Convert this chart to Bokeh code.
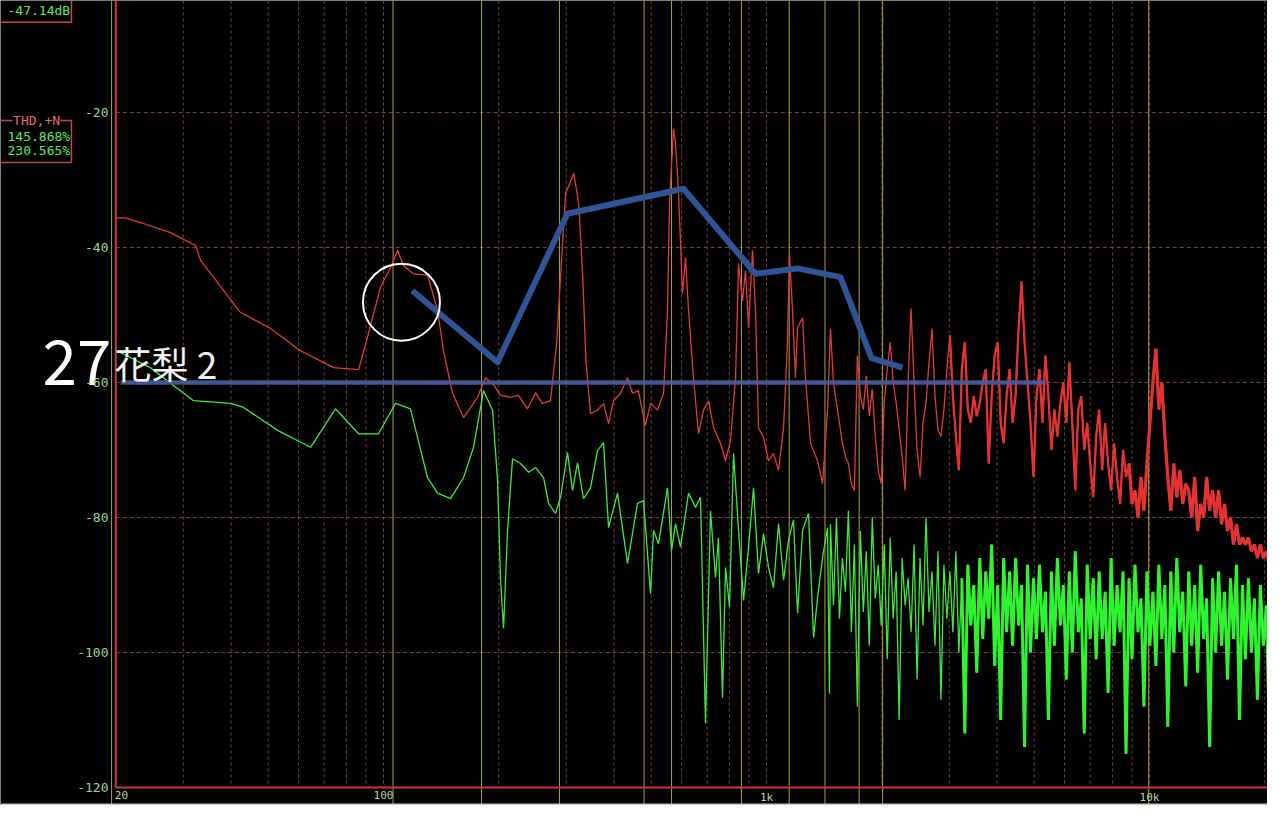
import numpy as np
from bokeh.plotting import figure
from bokeh.models import Range1d, Span
from bokeh.core.properties import value
from bokeh.embed import file_html
from bokeh.resources import INLINE

# ---------------- data ----------------
y_ticks = [-20, -40, -60, -80, -100, -120]
y_tick_labels = ["-20", "-40", "-60", "-80", "-100", "-120"]
x_ticks = [20, 100, 1000, 10000]
x_tick_labels = ["20", "100", "1k", "10k"]

grid_freqs = [30, 40, 50, 60, 70, 80, 90, 100, 200, 300, 400, 500, 600, 700, 800, 900,
              1000, 2000, 3000, 4000, 5000, 6000, 7000, 8000, 9000, 10000, 20000]
grid_db = [-20, -40, -60, -80, -100]
marker_freqs = [19.5, 105.9, 180.3, 288, 479, 565, 860, 1146, 1421, 1745, 2010, 9950]

# red trace (THD+N), low-frequency part
red_lo_f = [20.0, 21.2, 23.2, 27.8, 32.3, 33.3, 42.3, 50.7, 60.7, 74.1, 86.1, 90.8, 98.2,
            104.3, 108.8, 112.8, 119.8, 130.3, 138.4, 143.4, 151.5, 161.8, 176.0, 184.6,
            192.6, 202.1, 214.6, 225.1, 237.8, 249.5, 260.0, 272.8, 283.2, 289.9, 298.8,
            313.9, 323.4, 331.4, 337.6, 347.1, 362.1, 375.4, 386.9, 398.6, 415.9, 433.6,
            446.7, 462.9, 482.5, 497.9, 519.4, 538.5, 551.4, 558.1, 571.6, 578.6, 589.3,
            603.5, 614.5, 625.7, 644.7, 664.4, 684.7, 705.7, 727.3, 758.6, 781.6, 805.4,
            830.1, 845.2, 865.7, 881.5, 897.5, 919.3, 936.2, 953.1, 982.2, 1012, 1043,
            1075, 1108, 1134, 1148, 1169, 1190, 1205, 1242, 1264, 1303, 1359, 1401, 1443]
red_lo_db = [-35.6, -35.6, -36.3, -37.8, -39.7, -41.9, -49.6, -52.0, -55.3, -57.8, -58.1,
             -53.3, -45.9, -43.0, -40.4, -42.7, -43.9, -44.1, -49.3, -55.3, -61.6, -65.2,
             -62.2, -59.3, -60.1, -61.9, -62.2, -61.9, -63.9, -61.5, -63.1, -62.7, -54.2,
             -44.4, -32.0, -29.0, -33.5, -44.4, -56.7, -64.6, -64.1, -63.1, -66.1, -62.7,
             -61.6, -59.3, -61.6, -61.2, -66.4, -63.1, -64.1, -61.6, -49.3, -33.5, -22.4,
             -24.6, -32.0, -46.8, -41.5, -49.3, -59.3, -67.6, -64.1, -62.7, -66.7, -69.0,
             -71.6, -68.6, -59.3, -42.4, -47.9, -43.4, -51.9, -40.4, -49.3, -66.7, -68.1,
             -71.6, -70.5, -73.0, -66.7, -54.2, -40.9, -49.3, -59.3, -51.9, -50.4, -59.3,
             -69.0, -71.6, -75.0, -64.1]

# green trace (harmonics), low-frequency part
green_lo_f = [20.0, 20.6, 24.6, 31.9, 39.9, 43.1, 52.9, 64.5, 74.9, 86.1, 97.0, 107.5,
              117.6, 130.3, 138.4, 149.6, 161.8, 171.8, 182.4, 192.6, 198.5, 202.1, 205.8,
              210.8, 217.2, 227.9, 239.2, 249.5, 261.8, 269.7, 281.3, 289.9, 302.3, 311.5,
              321.0, 332.8, 347.1, 362.1, 375.4, 386.9, 408.3, 433.6, 460.5, 477.4, 497.9,
              507.0, 522.4, 551.4, 564.9, 578.6, 596.3, 625.7, 652.6, 672.5, 692.9, 714.1,
              735.9, 749.2, 767.5, 781.6, 800.6, 820.1, 845.2, 871.0, 897.5, 924.9, 953.1,
              982.2, 1012, 1043, 1075, 1108, 1141, 1176, 1205, 1242, 1287, 1327, 1359, 1401,
              1443, 1460]
green_lo_db = [-55.3, -55.6, -57.8, -62.7, -63.1, -63.7, -67.1, -69.6, -63.9, -67.6, -67.6,
               -63.1, -63.9, -74.1, -76.4, -77.2, -74.1, -69.6, -61.2, -64.1, -74.5, -89.3,
               -96.4, -81.9, -71.3, -72.0, -73.3, -72.6, -74.1, -77.9, -79.4, -77.0, -70.4,
               -76.0, -71.9, -77.2, -75.6, -70.1, -68.9, -81.5, -76.4, -86.8, -77.9, -77.5,
               -91.3, -81.9, -83.9, -75.6, -84.9, -80.9, -84.4, -76.4, -78.5, -77.0, -110.5,
               -79.0, -88.9, -83.0, -106.7, -87.4, -93.3, -70.5, -81.9, -92.3, -84.4, -75.6,
               -88.3, -82.4, -87.4, -90.4, -80.9, -89.3, -83.4, -80.4, -94.2, -81.9, -79.4,
               -97.8, -91.9, -85.9, -81.5, -106.1]

# dense high-frequency part: analyser display bins, values read column by column
hf_bins = np.geomspace(1469, 21300, 150)
red_hf_db = [
    -52, -60, -63, -66, -69, -71, -72, -75, -76, -56,
    -62, -64, -59, -65, -61, -68, -73, -75, -63, -58,
    -54, -60, -63, -67, -71, -76, -60, -49, -60, -70,
    -74, -66, -63, -57, -52, -62, -67, -68, -64, -58,
    -53, -62, -68, -73, -58, -54, -64, -66, -62, -65,
    -63, -60, -58, -72, -62, -56, -54, -66, -69, -62,
    -58, -66, -62, -52, -45, -54, -60, -66, -74, -62,
    -58, -66, -56, -62, -70, -64, -68, -63, -60, -66,
    -57, -66, -76, -64, -62, -70, -66, -72, -77, -68,
    -64, -73, -66, -72, -76, -69, -74, -78, -70, -74,
    -72, -78, -76, -80, -74, -79, -72, -66, -60, -55,
    -64, -60, -68, -74, -79, -72, -77, -73, -78, -75,
    -76, -80, -74, -82, -78, -80, -74, -79, -76, -80,
    -76, -81, -78, -82, -80, -84, -81, -84, -83, -84,
    -83, -85, -84, -86, -84, -86, -85, -87, -89, -93,
]
green_hf_db = [
    -81, -93, -80, -95, -86, -91, -79, -97, -84, -108,
    -82, -94, -85, -99, -80, -92, -87, -96, -84, -101,
    -83, -95, -88, -110, -86, -93, -89, -97, -84, -104,
    -86, -96, -80, -94, -88, -99, -85, -107, -87, -95,
    -88, -97, -85, -100, -89, -112, -87, -96, -90, -103,
    -86, -98, -88, -95, -84, -102, -90, -110, -86, -97,
    -88, -99, -86, -96, -90, -114, -87, -100, -89, -98,
    -87, -97, -91, -110, -88, -99, -86, -96, -90, -104,
    -88, -100, -85, -97, -92, -112, -87, -98, -89, -101,
    -88, -98, -91, -106, -86, -99, -90, -97, -88, -115,
    -89, -101, -87, -97, -92, -108, -88, -99, -91, -102,
    -87, -98, -90, -111, -88, -100, -86, -97, -91, -105,
    -88, -99, -90, -103, -87, -98, -92, -114, -89, -100,
    -88, -99, -91, -104, -89, -98, -87, -110, -90, -101,
    -89, -100, -92, -107, -90, -99, -93, -112, -96, -118,
]

# hand-drawn overlay
blue_f = [119, 198.5, 302, 607, 936, 1205, 1560, 1880, 2266]
blue_db = [-46.4, -57.0, -35.0, -31.3, -43.9, -43.1, -44.4, -56.4, -57.8]
ref_level_f = [20.6, 5352]
ref_level_db = [-60, -60]
circle_f = [111.4]
circle_db = [-48.1]

readout_level = "-47.14dB"
thd_title = "THD,+N"
thd_values = ["145.868%", "230.565%"]
title_num = "27"
title_name = "花梨 2"

# ---------------- figure ----------------
X_LO, X_HI = 10.0, 20325
Y_LO, Y_HI = -122.67, -3.41
F_MIN, DB_MIN = 20, -120

p = figure(width=1267, height=805, x_axis_type="log",
           x_range=Range1d(X_LO, X_HI), y_range=Range1d(Y_LO, Y_HI),
           x_axis_location=None, y_axis_location=None,
           output_backend="svg", toolbar_location=None, min_border=0,
           background_fill_color="black", border_fill_color="black",
           outline_line_color=None)
p.grid.visible = False

mono = value("DejaVu Sans Mono")
cjk = value("Noto Sans CJK JP")

# dashed grid
p.segment(x0=grid_freqs, y0=[Y_HI] * len(grid_freqs), x1=grid_freqs, y1=[DB_MIN] * len(grid_freqs),
          line_color="#7c4242", line_width=1, line_dash="3 3")
p.segment(x0=[F_MIN] * len(grid_db), y0=grid_db, x1=[X_HI] * len(grid_db), y1=grid_db,
          line_color="#7c4242", line_width=1, line_dash="4 3")

# yellow marker lines
p.segment(x0=marker_freqs, y0=[Y_HI] * len(marker_freqs), x1=marker_freqs, y1=[Y_LO] * len(marker_freqs),
          line_color="#a8a828", line_width=1)

# plot border (red)
p.line(x=[F_MIN, F_MIN, X_HI], y=[Y_HI, DB_MIN, DB_MIN], line_color="#c83a3a", line_width=2)

# traces
hf_list = list(hf_bins)
green_f = list(green_lo_f) + hf_list
green_db = list(green_lo_db) + list(green_hf_db)
red_f = list(red_lo_f) + hf_list
red_db = list(red_lo_db) + list(red_hf_db)
p.line(x=green_f, y=green_db, line_color="#3ee83e", line_width=1.3)
p.line(x=hf_list[44:], y=green_hf_db[44:], line_color="#2ef42e", line_width=3.0)
p.line(x=red_f, y=red_db, line_color="#e23a3a", line_width=1.3)
p.line(x=hf_list[40:], y=red_hf_db[40:], line_color="#e43232", line_width=2.3)
p.line(x=hf_list[100:], y=red_hf_db[100:], line_color="#e43232", line_width=3.2)

# overlay
p.line(x=ref_level_f, y=ref_level_db, line_color="#4a5c9c", line_width=4.5, line_alpha=0.9)
p.line(x=blue_f, y=blue_db, line_color="#2f5597", line_width=6, line_join="round")
p.scatter(x=circle_f, y=circle_db, size=77, marker="circle", fill_color=None,
          line_color="white", line_width=2)

# titles
p.text(x=[12.87], y=[-57.04], text=[title_num], text_font=cjk, text_font_size="62px",
       text_color="white", text_align="left", text_baseline="alphabetic")
p.text(x=[19.85], y=[-57.04], text=[title_name], text_font=cjk, text_font_size="37px",
       text_color="#f2f2f2", text_align="left", text_baseline="alphabetic")

# y tick labels
p.text(x=[19.14] * len(y_ticks), y=y_ticks, text=y_tick_labels, text_font=mono,
       text_font_size="13px", text_color="#96d896", text_align="right", text_baseline="middle")

# x tick labels
p.text(x=x_ticks[:1], y=[-120.5], text=x_tick_labels[:1], text_font=mono, text_font_size="11px",
       text_color="#bcd4a4", text_align="left", text_baseline="top", x_offset=-1)
p.text(x=x_ticks[1:], y=[-120.5] * 3, text=x_tick_labels[1:], text_font=mono, text_font_size="11px",
       text_color="#bcd4a4", text_align="center", text_baseline="top")

# read-out boxes at the left
p.quad(left=[9], right=[15.32], top=[0], bottom=[-6.62], fill_color=None,
       line_color="#c04848", line_width=1.5)
p.text(x=[15.2], y=[-4.9], text=[readout_level], text_font=mono, text_font_size="13px",
       text_color="#5ae85a", text_align="right", text_baseline="middle")
p.quad(left=[9], right=[15.32], top=[-21.19], bottom=[-27.41], fill_color=None,
       line_color="#c04848", line_width=1.5)
p.quad(left=[10.75], right=[14.35], top=[-20.3], bottom=[-22.07], fill_color="black",
       line_color=None)
p.text(x=[12.42], y=[-21.26], text=[thd_title], text_font=mono, text_font_size="13px",
       text_color="#e86a6a", text_align="center", text_baseline="middle")
p.text(x=[15.2, 15.2], y=[-23.5, -25.6], text=thd_values, text_font=mono, text_font_size="13px",
       text_color="#5ae85a", text_align="right", text_baseline="middle")

# window chrome below the graph
p.add_layout(Span(location=-122.6, dimension="width", line_color="#c8c8c8", line_width=3))

open("out.html", "w").write(file_html(p, INLINE))
